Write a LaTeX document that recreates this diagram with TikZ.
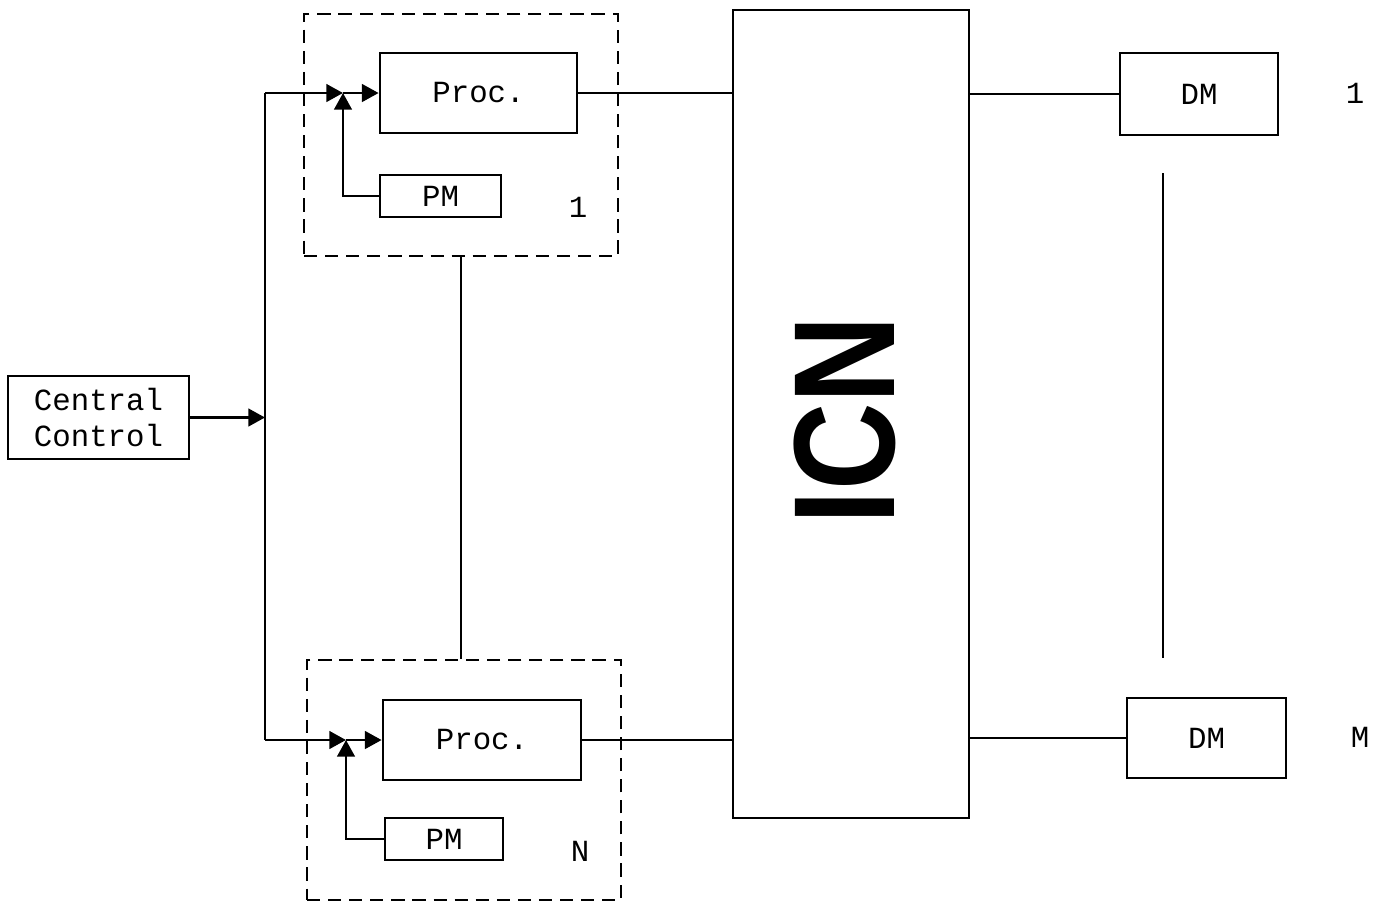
\documentclass[tikz,border=0pt]{standalone}
\usepackage{fontspec}
\newfontfamily\typew{Liberation Mono}
\newfontfamily\icnsans{Liberation Sans}
\usetikzlibrary{arrows.meta}
\tikzset{
  blok/.style  = {rectangle, draw, line width=1.6pt, inner sep=0, font=\typew\fontsize{17.5}{20.5}\selectfont},
  grens/.style = {rectangle, draw, line width=1.6pt, dash pattern=on 7.5pt off 4.5pt},
  link/.style  = {line width=1.6pt},
  pijl/.style  = {link, -{Triangle[length=9.5pt,width=10pt]}},
  et/.style    = {font=\typew\fontsize{17.5}{20.5}\selectfont},
  icnlabel/.style = {rotate=90, inner sep=0, font=\icnsans\bfseries\fontsize{82}{82}\selectfont}
}
\begin{document}
\begin{tikzpicture}[x=0.02cm, y=-0.02cm]
  \useasboundingbox (0,0) rectangle (1383,904);

  % central control and bus
  \node[blok, minimum width=3.62cm, minimum height=1.66cm, align=center] (cc) at (98.5,417.5) {Central\\Control};
  \coordinate (bt) at (265,93);
  \coordinate (bm) at (265,417.5);
  \coordinate (bb) at (265,740);
  \draw[link] (bt) -- (bb);
  \draw[pijl] (cc) -- (bm);

  % processing element 1
  \node[grens, minimum width=6.28cm, minimum height=4.84cm] (pe1) at (461,135) {};
  \node[blok, minimum width=3.94cm, minimum height=1.6cm] (proc1) at (478.5,93) {Proc.};
  \node[blok, minimum width=2.42cm, minimum height=0.84cm] (pm1) at (440.5,196) {PM};
  \node[et] (n1) at (578,207) {1};
  \coordinate (j1) at (343,93);
  \draw[pijl] (bt) -- (j1);
  \draw[pijl] (j1) -- (proc1.west);
  \draw[pijl] (pm1.west) -| (j1);

  % processing element N
  \node[grens, minimum width=6.28cm, minimum height=4.8cm] (pe2) at (464,780) {};
  \node[blok, minimum width=3.96cm, minimum height=1.6cm] (proc2) at (482,740) {Proc.};
  \node[blok, minimum width=2.36cm, minimum height=0.84cm] (pm2) at (444,839) {PM};
  \node[et] (nN) at (580,851) {N};
  \coordinate (j2) at (346,740);
  \draw[pijl] (bb) -- (j2);
  \draw[pijl] (j2) -- (proc2.west);
  \draw[pijl] (pm2.west) -| (j2);

  \draw[link] (pe1.south) -- (pe1.south |- pe2.north);

  % network
  \node[blok, minimum width=4.72cm, minimum height=16.16cm] (icn) at (851,414) {};
  \node[icnlabel] (icnt) at (845,420) {\scalebox{0.84}[1]{ICN}};
  \draw[link] (proc1) -- (proc1 -| icn.west);
  \draw[link] (proc2) -- (proc2 -| icn.west);

  % data memories
  \node[blok, minimum width=3.16cm, minimum height=1.64cm] (dm1) at (1199,94) {DM};
  \node[blok, minimum width=3.18cm, minimum height=1.6cm] (dmM) at (1206.5,738) {DM};
  \node[et] (m1) at (1355,93) {1};
  \node[et] (mM) at (1360,737) {M};
  \draw[link] (dm1 -| icn.east) -- (dm1);
  \draw[link] (dmM -| icn.east) -- (dmM);
  \coordinate (dt) at (1163,173);
  \coordinate (db) at (1163,658);
  \draw[link] (dt) -- (db);

\end{tikzpicture}
\end{document}
